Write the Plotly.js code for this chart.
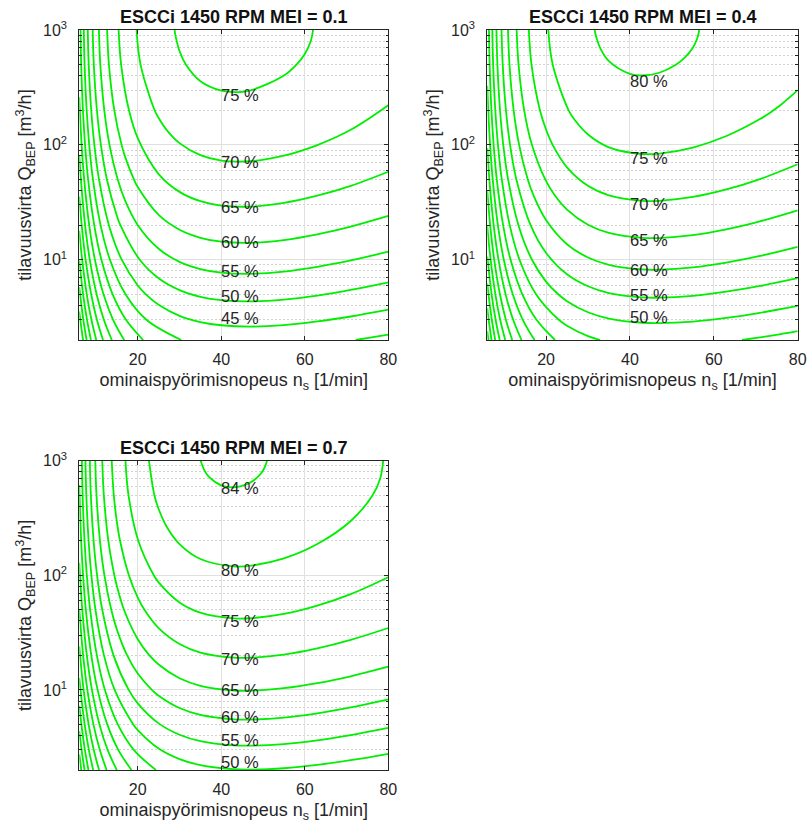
<!DOCTYPE html>
<html><head><meta charset="utf-8">
<script src="https://cdn.plot.ly/plotly-3.0.1.min.js"></script>
<style>html,body{margin:0;padding:0;background:#fff}</style>
</head><body><div id="chart" style="width:809px;height:828px"></div>
<script>
// ---- contour lines: [ns (1/min), Q_BEP (m3/h)] ----
// ESCCi 1450 RPM, MEI = 0.1
const mei01_00 = [[6,3.54],[6.234,3],[6.895,2]];
const mei01_05 = [[6,5.77],[6.187,5],[6.968,3],[7.754,2]];
const mei01_10 = [[6,9.85],[6.917,5],[7.845,3],[8.790,2]];
const mei01_15 = [[6,17.87],[6.681,10],[7.786,5],[8.904,3],[10.067,2]];
const mei01_20 = [[6,35.5],[6.574,20],[7.510,10],[8.840,5],[10.216,3],[11.682,2]];
const mei01_25 = [[6,81.6],[6.384,50],[7.387,20],[8.510,10],[10.143,5],[11.883,3],[13.80,2]];
const mei01_30 = [[6,260],[6.127,200],[6.557,100],[7.167,50],[8.368,20],[9.741,10],[11.800,5],[14.09,3],[16.75,2]];
const mei01_35 = [[6.288,1000],[6.450,500],[6.871,200],[7.380,100],[8.110,50],[9.575,20],[11.297,10],[13.99,5],[17.18,3],[21.29,2]];
const mei01_40a = [[7.075,1000],[7.264,500],[7.764,200],[8.376,100],[9.267,50],[11.097,20],[13.335,10],[17.07,5],[22.07,3],[30.41,2]];
const mei01_40b = [[72.20,2],[76,2.105],[80,2.229]];
const mei01_45 = [[8.027,1000],[8.252,500],[8.854,200],[9.607,100],[10.720,50],[13.089,20],[16.16,10],[20,5.970],[21.94,5],[25,4.052],[30,3.249],[35,2.868],[40,2.687],[47,2.618],[55,2.700],[63,2.899],[71,3.203],[80,3.673]];
const mei01_50 = [[9.204,1000],[9.476,500],[10.220,200],[11.171,100],[12.610,50],[15,24.10],[15.839,20],[20.48,10],[25,6.893],[30,5.434],[35,4.756],[40,4.443],[47,4.331],[55,4.493],[63,4.874],[71,5.452],[80,6.356]];
const mei01_55 = [[10.696,1000],[11.033,500],[11.985,200],[13.236,100],[15.203,50],[17,32.60],[20.02,20],[25,12.46],[30,9.586],[35,8.297],[40,7.714],[47,7.534],[55,7.874],[63,8.654],[71,9.848],[80,11.76]];
const mei01_60 = [[12.663,1000],[13.097,500],[14.381,200],[16.131,100],[17,78.14],[19.079,50],[20,42.9],[25,24.54],[30,18.23],[35,15.53],[40,14.35],[47,14.04],[55,14.84],[63,16.62],[71,19.40],[80,24.03]];
const mei01_65 = [[15.417,1000],[16.016,500],[17.898,200],[20,114.4],[25,55.7],[30,38.97],[35,32.31],[40,29.59],[47,29.01],[55,31.23],[63,36.07],[71,43.98],[80,58.35]];
const mei01_70 = [[19.714,1000],[20.67,500],[24.04,200],[25,171.5],[27,133.8],[30,103.6],[35,81.3],[40,73.0],[47,72.0],[55,80.5],[63,99.6],[71,135.3],[80,221.5]];
const mei01_75 = [[28.83,1000],[29,907],[30,656],[31.51,500],[35,358],[40,296],[43,287.6],[47,298.3],[55,401.4],[58.02,500],[60,619],[61.5,815],[61.97,1000]];
const mei01_lines = [mei01_00,mei01_05,mei01_10,mei01_15,mei01_20,mei01_25,mei01_30,mei01_35,mei01_40a,mei01_40b,mei01_45,mei01_50,mei01_55,mei01_60,mei01_65,mei01_70,mei01_75];
const mei01_labelText = ['75 %','70 %','65 %','60 %','55 %','50 %','45 %'];
const mei01_labelQ = [282,73.1,29.7,14.77,8.27,5.01,3.18];

// ESCCi 1450 RPM, MEI = 0.4
const mei04_00 = [[6,2.391],[6.270,2]];
const mei04_05 = [[6,3.781],[6.331,3],[7.008,2]];
const mei04_10 = [[6,6.204],[6.284,5],[7.083,3],[7.889,2]];
const mei04_15 = [[6,10.67],[7.030,5],[7.982,3],[8.955,2]];
const mei04_20 = [[6,19.59],[6.790,10],[7.924,5],[9.074,3],[10.273,2]];
const mei04_25 = [[6,39.5],[6.681,20],[7.640,10],[9.008,5],[10.428,3],[11.948,2]];
const mei04_30 = [[6,93.6],[6.487,50],[7.516,20],[8.669,10],[10.353,5],[12.158,3],[14.16,2]];
const mei04_35 = [[6,326.6],[6.225,200],[6.666,100],[7.291,50],[8.525,20],[9.939,10],[12.073,5],[14.461,3],[17.27,2]];
const mei04_40 = [[6.392,1000],[6.557,500],[6.988,200],[7.510,100],[8.260,50],[9.770,20],[11.552,10],[14.364,5],[17.73,3],[22.16,2]];
const mei04_45a = [[7.199,1000],[7.393,500],[7.905,200],[8.536,100],[9.451,50],[11.346,20],[13.678,10],[17.62,5],[23.03,3],[25,2.663],[30,2.161],[32.90,2]];
const mei04_45b = [[66.73,2],[71,2.106],[76,2.252],[80,2.387]];
const mei04_50 = [[8.179,1000],[8.410,500],[9.030,200],[9.806,100],[10.958,50],[13.423,20],[16.65,10],[20,6.449],[22.90,5],[25,4.356],[30,3.487],[35,3.074],[43,2.825],[47,2.806],[55,2.894],[63,3.113],[71,3.446],[80,3.958]];
const mei04_55 = [[9.393,1000],[9.673,500],[10.444,200],[11.427,100],[12.928,50],[16.32,20],[20,11.49],[25,7.467],[30,5.869],[35,5.128],[43,4.697],[47,4.670],[55,4.847],[63,5.267],[71,5.906],[80,6.904]];
const mei04_60 = [[10.941,1000],[11.290,500],[12.282,200],[13.585,100],[15.652,50],[17,36.43],[20,22.15],[25,13.63],[30,10.45],[35,9.025],[43,8.228],[47,8.190],[55,8.576],[63,9.443],[71,10.78],[80,12.93]];
const mei04_65 = [[12.995,1000],[13.449,500],[14.795,200],[16.64,100],[19.81,50],[22,36.72],[25,27.29],[30,20.14],[35,17.10],[43,15.48],[47,15.44],[55,16.36],[63,18.38],[71,21.57],[80,26.90]];
const mei04_70 = [[15.904,1000],[16.537,500],[18.55,200],[20,135.9],[21.57,100],[25,63.74],[30,43.98],[35,36.30],[43,32.49],[47,32.54],[55,35.17],[63,40.89],[71,50.32],[80,67.77]];
const mei04_75 = [[20.55,1000],[21.59,500],[25.39,200],[27,161.9],[30,123.0],[35,95.19],[43,83.22],[47,84.03],[55,94.81],[63,119.4],[71,167.7],[74.23,200],[76,223.3],[80,299.4]];
const mei04_80 = [[31.60,1000],[32,859],[33,686],[35,535.5],[40,414.9],[43,401.8],[47,424.5],[51.04,500],[53,571],[55,702],[56,834],[56.54,1000]];
const mei04_lines = [mei04_00,mei04_05,mei04_10,mei04_15,mei04_20,mei04_25,mei04_30,mei04_35,mei04_40,mei04_45a,mei04_45b,mei04_50,mei04_55,mei04_60,mei04_65,mei04_70,mei04_75,mei04_80];
const mei04_labelText = ['80 %','75 %','70 %','65 %','60 %','55 %','50 %'];
const mei04_labelQ = [368,79.5,31.7,15.25,8.37,5.11,3.25];

// ESCCi 1450 RPM, MEI = 0.7
const mei07_05 = [[6,2.737],[6.482,2]];
const mei07_10 = [[6,4.375],[6.546,3],[7.259,2]];
const mei07_15 = [[6,7.27],[6.497,5],[7.340,3],[8.191,2]];
const mei07_20 = [[6,12.73],[6.281,10],[7.285,5],[8.291,3],[9.325,2]];
const mei07_25 = [[6,23.95],[6.181,20],[7.032,10],[8.231,5],[9.454,3],[10.738,2]];
const mei07_30 = [[6,50.25],[6.919,20],[7.932,10],[9.386,5],[10.907,3],[12.551,2]];
const mei07_35 = [[6,128.5],[6.161,100],[6.716,50],[7.802,20],[9.026,10],[10.83,5],[12.784,3],[14.985,2]];
const mei07_40 = [[6,614.8],[6.058,500],[6.443,200],[6.906,100],[7.565,50],[8.875,20],[10.387,10],[12.696,5],[15.325,3],[18.50,2]];
const mei07_45 = [[6.621,1000],[6.795,500],[7.248,200],[7.800,100],[8.595,50],[10.207,20],[12.133,10],[15.22,5],[19.05,3],[24.35,2]];
const mei07_50 = [[7.477,1000],[7.681,500],[8.222,200],[8.892,100],[9.872,50],[11.914,20],[14.471,10],[18.93,5],[20,4.465],[25,3.079],[30,2.490],[35,2.206],[43,2.031],[47,2.015],[55,2.072],[63,2.216],[71,2.435],[80,2.771]];
const mei07_55 = [[8.520,1000],[8.764,500],[9.425,200],[10.256,100],[11.499,50],[14.194,20],[17.83,10],[20,7.634],[25,5.104],[30,4.064],[35,3.576],[43,3.283],[47,3.260],[55,3.370],[63,3.634],[71,4.037],[80,4.659]];
const mei07_60 = [[9.822,1000],[10.120,500],[10.949,200],[12.016,100],[13.658,50],[15,33.57],[17.46,20],[20,13.89],[23.37,10],[25,8.898],[30,6.948],[35,6.053],[43,5.534],[47,5.506],[55,5.728],[63,6.247],[71,7.038],[80,8.281]];
const mei07_65 = [[11.502,1000],[11.876,500],[12.956,200],[14.394,100],[15,80.49],[16.71,50],[20,27.64],[22.80,20],[25,16.64],[30,12.63],[35,10.86],[43,9.879],[47,9.846],[55,10.34],[63,11.44],[71,13.15],[80,15.93]];
const mei07_70 = [[13.766,1000],[14.26,500],[15,292.6],[15.762,200],[17.87,100],[20,63.92],[21.60,50],[25,34.58],[30,25.12],[35,21.18],[43,19.11],[47,19.09],[55,20.34],[63,23.03],[71,27.33],[80,34.68]];
const mei07_75 = [[17.06,1000],[17.78,500],[20.13,200],[23.84,100],[25,86.83],[30,57.99],[35,47.21],[43,42.04],[47,42.18],[55,46.01],[63,54.36],[71,68.57],[80,96.24]];
const mei07_80 = [[22.68,1000],[23.98,500],[25,378.5],[27,262.4],[30,187.1],[35,138.6],[43,119.5],[47,121.2],[55,140.5],[63,187.4],[71,297.9],[76.24,500],[78.07,700],[78.79,1000]];
const mei07_84 = [[35.07,1000],[36,819],[37,726],[40,609],[43,585],[47,647],[49,738],[50,822],[50.5,893],[50.95,1000]];
const mei07_lines = [mei07_05,mei07_10,mei07_15,mei07_20,mei07_25,mei07_30,mei07_35,mei07_40,mei07_45,mei07_50,mei07_55,mei07_60,mei07_65,mei07_70,mei07_75,mei07_80,mei07_84];
const mei07_labelText = ['84 %','80 %','75 %','70 %','65 %','60 %','55 %','50 %'];
const mei07_labelQ = [594,115.3,41.2,19.12,10.28,6.03,3.73,2.415];

const labelNs = 40;
const titles = ['ESCCi 1450 RPM MEI = 0.1','ESCCi 1450 RPM MEI = 0.4','ESCCi 1450 RPM MEI = 0.7'];
const xTicks = [20,40,60,80];
const yTicks = [10,100,1000];
const yTickText = ['10<sup>1</sup>','10<sup>2</sup>','10<sup>3</sup>'];
const yMinor = [2,3,4,5,6,7,8,9,20,30,40,50,60,70,80,90,200,300,400,500,600,700,800,900];
const xTitle = 'ominaispyörimisnopeus n<sub>s</sub> [1/min]';
const yTitle = 'tilavuusvirta Q<sub>BEP</sub> [m<sup>3</sup>/h]';

// ---- build ----
const FONT = '"Liberation Sans", Arial, Helvetica, sans-serif';
const TXT = '#262626';
const GREEN = '#00ee00';
const traces = [];
function addLines(lines, ax) {
  lines.forEach(seg => {
    traces.push({
      type: 'scatter', mode: 'lines',
      x: seg.map(p => p[0]), y: seg.map(p => p[1]),
      xaxis: 'x' + ax, yaxis: 'y' + ax,
      line: {color: GREEN, width: 1.8, shape: 'spline', smoothing: 1},
      hoverinfo: 'skip', showlegend: false
    });
  });
}
addLines(mei01_lines, '');
addLines(mei04_lines, '2');
addLines(mei07_lines, '3');

const annotations = [];
function addLabels(texts, qs, ax) {
  texts.forEach((t, i) => {
    annotations.push({
      text: t, x: labelNs, y: Math.log10(qs[i]),
      xref: 'x' + ax, yref: 'y' + ax,
      xanchor: 'left', yanchor: 'middle', showarrow: false,
      xshift: -2, yshift: -1.5,
      font: {family: FONT, size: 16.5, color: TXT}
    });
  });
}
addLabels(mei01_labelText, mei01_labelQ, '');
addLabels(mei04_labelText, mei04_labelQ, '2');
addLabels(mei07_labelText, mei07_labelQ, '3');

const titlePos = [[233.8, 16.7], [642.5, 16.7], [233.8, 448]];
titles.forEach((t, i) => {
  annotations.push({
    text: '<b>' + t + '</b>', xref: 'paper', yref: 'paper',
    x: titlePos[i][0] / 809, y: 1 - titlePos[i][1] / 828,
    xanchor: 'center', yanchor: 'middle', showarrow: false,
    font: {family: FONT, size: 18, color: '#111111'}
  });
});

function xAxis(dom, anchor) {
  return {
    domain: dom, anchor: anchor, type: 'linear', range: [6, 80],
    tickmode: 'array', tickvals: xTicks, ticktext: xTicks.map(String),
    ticks: 'inside', ticklen: 4, tickcolor: TXT, tickwidth: 1,
    showline: true, linecolor: TXT, linewidth: 1, mirror: 'allticks',
    showgrid: true, gridcolor: '#e0e0e0', gridwidth: 1, zeroline: false,
    tickfont: {family: FONT, size: 16, color: TXT}, ticklabelstandoff: 5,
    title: {text: xTitle, font: {family: FONT, size: 18, color: TXT}, standoff: 6},
    automargin: false, fixedrange: true
  };
}
function yAxis(dom, anchor) {
  return {
    domain: dom, anchor: anchor, type: 'log', range: [Math.log10(2), 3],
    tickmode: 'array', tickvals: yTicks, ticktext: yTickText,
    ticks: 'inside', ticklen: 4, tickcolor: TXT, tickwidth: 1,
    showline: true, linecolor: TXT, linewidth: 1, mirror: 'allticks',
    showgrid: true, gridcolor: '#e0e0e0', gridwidth: 1, zeroline: false,
    minor: {tickmode: 'array', tickvals: yMinor, ticks: 'inside', ticklen: 2.5, tickcolor: TXT,
            showgrid: true, gridcolor: '#d2d2d2', griddash: '1.5px,2.5px', gridwidth: 1},
    tickfont: {family: FONT, size: 16, color: TXT}, ticklabelstandoff: 8,
    title: {text: yTitle, font: {family: FONT, size: 18, color: TXT}, standoff: 6},
    automargin: false, fixedrange: true
  };
}
const xd1 = [79.3 / 809, 388.3 / 809], xd2 = [487.3 / 809, 797.7 / 809];
const yd1 = [1 - 340 / 828, 1 - 30 / 828], yd3 = [1 - 770 / 828, 1 - 460.7 / 828];
const layout = {
  width: 809, height: 828, margin: {l: 0, r: 0, t: 0, b: 0},
  paper_bgcolor: '#ffffff', plot_bgcolor: '#ffffff', showlegend: false,
  xaxis: xAxis(xd1, 'y'), yaxis: yAxis(yd1, 'x'),
  xaxis2: xAxis(xd2, 'y2'), yaxis2: yAxis(yd1, 'x2'),
  xaxis3: xAxis(xd1, 'y3'), yaxis3: yAxis(yd3, 'x3'),
  annotations: annotations
};
Plotly.newPlot('chart', traces, layout, {staticPlot: true, displayModeBar: false});
</script></body></html>
